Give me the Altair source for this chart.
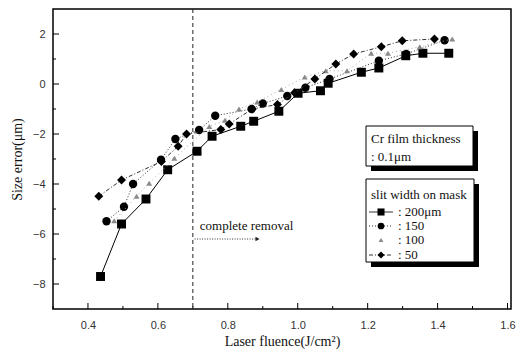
import altair as alt
import pandas as pd

# ---- data ----
sq_x = [0.436, 0.496, 0.566, 0.628, 0.712, 0.755, 0.837, 0.874, 0.946, 1.001, 1.065, 1.087, 1.182, 1.232, 1.309, 1.358, 1.432]
sq_y = [-7.7, -5.6, -4.6, -3.43, -2.69, -2.09, -1.69, -1.49, -1.09, -0.37, -0.27, 0.03, 0.47, 0.64, 1.13, 1.23, 1.23]

ci_x = [0.453, 0.503, 0.529, 0.609, 0.650, 0.718, 0.764, 0.868, 0.900, 0.970, 1.022, 1.091, 1.232, 1.31, 1.42]
ci_y = [-5.49, -4.91, -4.0, -3.03, -2.2, -1.84, -1.27, -1.0, -0.78, -0.48, -0.15, 0.2, 0.93, 1.2, 1.75]

tr_x = [0.475, 0.539, 0.575, 0.647, 0.747, 0.792, 0.832, 0.884, 0.953, 1.02, 1.08, 1.141, 1.21, 1.258, 1.349, 1.442]
tr_y = [-5.47, -4.49, -3.97, -2.97, -1.7, -1.45, -1.0, -0.72, -0.22, 0.28, 0.53, 0.53, 1.23, 1.23, 1.49, 1.8]

di_x = [0.431, 0.496, 0.61, 0.658, 0.682, 0.78, 0.804, 0.87, 0.942, 0.991, 1.049, 1.109, 1.16, 1.239, 1.299, 1.391]
di_y = [-4.49, -3.84, -3.1, -2.49, -2.0, -1.82, -1.6, -1.0, -0.82, -0.35, 0.2, 0.8, 1.2, 1.49, 1.73, 1.8]

x_major = [0.4, 0.6, 0.8, 1.0, 1.2, 1.4, 1.6]
x_minor = [0.3, 0.5, 0.7, 0.9, 1.1, 1.3, 1.5]
y_major = [-8, -6, -4, -2, 0, 2]
y_minor = [-7, -5, -3, -1, 1]

removal_x = [0.7]
note_text = ["complete removal"]
note_x = [0.72]
note_y = [-5.68]
arrow_x = [0.705]
arrow_x2 = [0.885]
arrow_y = [-6.2]

legend_labels = [": 200\u03bcm", ": 150", ": 100", ": 50"]

W, H = 458, 300
SERIF = "Liberation Serif"
SANS = "Liberation Sans"

xs = alt.Scale(domain=[0.3, 1.61], nice=False, zero=False)
ys = alt.Scale(domain=[-9, 3], nice=False, zero=False)

xaxis = alt.Axis(values=x_major, format=".1f", ticks=False, domain=False, grid=False,
                 labelFont=SANS, labelFontSize=11, labelColor="#333", labelPadding=10,
                 title="Laser fluence(J/cm\u00b2)", titleFont=SERIF, titleFontSize=14,
                 titleFontWeight="normal", titleColor="#111", titlePadding=4)
yaxis = alt.Axis(values=y_major, format="d", ticks=False, domain=False, grid=False,
                 labelFont=SANS, labelFontSize=11, labelColor="#333", labelPadding=8,
                 title="Size error(\u03bcm)", titleFont=SERIF, titleFontSize=14,
                 titleFontWeight="normal", titleColor="#111", titlePadding=8)


def X(field="x"):
    return alt.X(f"{field}:Q", scale=xs, axis=xaxis)


def Y(field="y"):
    return alt.Y(f"{field}:Q", scale=ys, axis=yaxis)


def df(xv, yv):
    return pd.DataFrame({"x": xv, "y": yv})


layers = []

# frame ticks (inside)
layers.append(alt.Chart(pd.DataFrame({"x": x_major})).mark_rule(color="black", strokeWidth=1)
              .encode(x=X(), y=alt.value(H), y2=alt.value(H - 6)))
layers.append(alt.Chart(pd.DataFrame({"x": x_minor})).mark_rule(color="black", strokeWidth=1)
              .encode(x=X(), y=alt.value(H), y2=alt.value(H - 3)))
layers.append(alt.Chart(pd.DataFrame({"y": y_major})).mark_rule(color="black", strokeWidth=1)
              .encode(y=Y(), x=alt.value(0), x2=alt.value(6)))
layers.append(alt.Chart(pd.DataFrame({"y": y_minor})).mark_rule(color="black", strokeWidth=1)
              .encode(y=Y(), x=alt.value(0), x2=alt.value(3)))

# vertical dashed line
layers.append(alt.Chart(pd.DataFrame({"x": removal_x})).mark_rule(color="#222", strokeWidth=1, strokeDash=[4, 3])
              .encode(x=X(), y=alt.value(0), y2=alt.value(H)))

# series
series = [
    (sq_x, sq_y, "square", 80, "black", None),
    (ci_x, ci_y, "circle", 70, "black", [1, 2]),
    (tr_x, tr_y, "triangle-up", 36, "#8a8a8a", [1, 3]),
    (di_x, di_y, "diamond", 80, "black", [4, 2, 1, 2]),
]
for sx, sy, shape, size, color, dash in series:
    d = df(sx, sy)
    lkw = dict(color="#333" if dash else "black", strokeWidth=1)
    if dash:
        lkw["strokeDash"] = dash
    if shape == "triangle-up":
        lkw["color"] = "#aaa"
    layers.append(alt.Chart(d).mark_line(**lkw).encode(x=X(), y=Y()))
    layers.append(alt.Chart(d).mark_point(shape=shape, size=size, filled=True, color=color, opacity=1)
                  .encode(x=X(), y=Y()))

# annotation
layers.append(alt.Chart(pd.DataFrame({"x": note_x, "y": note_y, "t": note_text}))
              .mark_text(align="left", baseline="middle", font=SERIF, fontSize=13, color="#111")
              .encode(x=X(), y=Y(), text="t:N"))
layers.append(alt.Chart(pd.DataFrame({"x": arrow_x, "x2": arrow_x2, "y": arrow_y}))
              .mark_rule(color="#333", strokeWidth=1, strokeDash=[1, 1.5])
              .encode(x=X(), x2="x2:Q", y=Y()))
layers.append(alt.Chart(pd.DataFrame({"x": arrow_x2, "y": arrow_y}))
              .mark_point(shape="triangle-right", size=22, filled=True, color="#222", opacity=1)
              .encode(x=X(), y=Y()))

# legend boxes (pixel positions inside plot area)
dummy = pd.DataFrame({"a": [0]})


def box(x1, y1, x2, y2):
    sh = alt.Chart(dummy).mark_rect(color="black").encode(
        x=alt.value(x1 + 5), x2=alt.value(x2 + 5), y=alt.value(y1 + 5), y2=alt.value(y2 + 5))
    fr = alt.Chart(dummy).mark_rect(fill="white", stroke="black", strokeWidth=1).encode(
        x=alt.value(x1), x2=alt.value(x2), y=alt.value(y1), y2=alt.value(y2))
    return [sh, fr]


def txt(s, x, y, size=13):
    return alt.Chart(dummy).mark_text(align="left", baseline="middle", font=SERIF, fontSize=size,
                                      color="#111", text=s).encode(x=alt.value(x), y=alt.value(y))


layers += box(313, 117, 420, 157)
layers.append(txt("Cr film thickness", 318, 130))
layers.append(txt(": 0.1\u03bcm", 318, 148))

layers += box(313, 170, 421, 253)
layers.append(txt("slit width on mask", 318, 186))
row_y = [203, 217, 231, 246]
legend_style = [("square", 50, "black", None, True), ("circle", 45, "black", [1, 2], True),
                ("triangle-up", 24, "#8a8a8a", None, False), ("diamond", 50, "black", [4, 2, 1, 2], True)]
for ry, lab, (shape, size, color, dash, has_line) in zip(row_y, legend_labels, legend_style):
    if has_line:
        rkw = dict(color="#333", strokeWidth=1)
        if dash:
            rkw["strokeDash"] = dash
        layers.append(alt.Chart(dummy).mark_rule(**rkw).encode(
            x=alt.value(316), x2=alt.value(340), y=alt.value(ry)))
    layers.append(alt.Chart(dummy).mark_point(shape=shape, size=size, filled=True, color=color, opacity=1)
                  .encode(x=alt.value(328), y=alt.value(ry)))
    layers.append(txt(lab, 345, ry))

chart = alt.layer(*layers).properties(
    width=W, height=H,
    padding={"left": 53, "top": 9, "right": 21, "bottom": 46},
    autosize=alt.AutoSizeParams(type="none"),
    background="white",
).configure_view(stroke="black", strokeWidth=1.5)

chart.save("out.html", embed_options={"renderer": "svg", "actions": False})
